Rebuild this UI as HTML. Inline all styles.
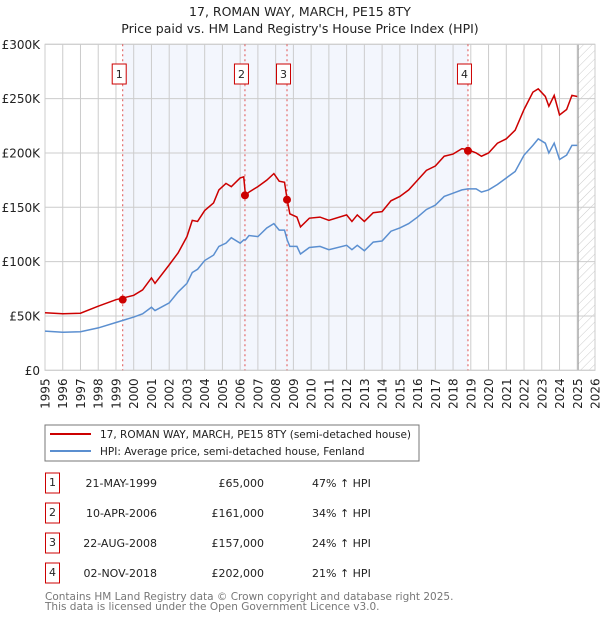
<!DOCTYPE html>
<html><head><meta charset="utf-8"><style>
body{margin:0;background:#fff;font-family:"DejaVu Sans","Liberation Sans",sans-serif;}
svg text{font-family:"DejaVu Sans","Liberation Sans",sans-serif;}
</style></head><body>
<svg id="c" width="600" height="620" xmlns="http://www.w3.org/2000/svg">
<defs><pattern id="hatch" width="6" height="6" patternUnits="userSpaceOnUse" patternTransform="rotate(45)"><line x1="0" y1="0" x2="0" y2="6" stroke="#ccc" stroke-width="1"/></pattern></defs>
<text x="300" y="16" text-anchor="middle" font-size="12.5" fill="#222">17, ROMAN WAY, MARCH, PE15 8TY</text>
<text x="300" y="33" text-anchor="middle" font-size="12.5" fill="#222">Price paid vs. HM Land Registry's House Price Index (HPI)</text>
<g id="plot"></g>
<rect x="45" y="425" width="374" height="36" fill="#fff" stroke="#777"/>
<line x1="50" y1="434" x2="91" y2="434" stroke="#cc0000" stroke-width="2"/>
<text x="100" y="438" font-size="10.5" fill="#222">17, ROMAN WAY, MARCH, PE15 8TY (semi-detached house)</text>
<line x1="50" y1="451" x2="91" y2="451" stroke="#5b8fd0" stroke-width="2"/>
<text x="100" y="455" font-size="10.5" fill="#222">HPI: Average price, semi-detached house, Fenland</text>
<g id="tbl" font-size="11" fill="#222"></g>
<text x="45" y="600" font-size="10.5" fill="#777">Contains HM Land Registry data © Crown copyright and database right 2025.</text>
<text x="45" y="610" font-size="10.5" fill="#777">This data is licensed under the Open Government Licence v3.0.</text>
</svg>
<script>
const years=[1995,1996,1997,1998,1999,2000,2000.5,2001,2001.2,2002,2002.5,2003,2003.3,2003.6,2004,2004.5,2004.8,2005.2,2005.5,2006,2006.2,2006.3,2006.5,2007,2007.5,2007.9,2008.2,2008.5,2008.65,2008.8,2009.2,2009.4,2009.9,2010.5,2011,2012,2012.3,2012.6,2013,2013.5,2014,2014.5,2015,2015.5,2016,2016.5,2017,2017.5,2018,2018.5,2018.84,2019.3,2019.6,2020,2020.5,2021,2021.5,2022,2022.5,2022.8,2023.2,2023.4,2023.7,2024,2024.4,2024.7,2025];
const priceK=[53,52,52.5,59,65,69,74,85,80,97,108,123,138,137,147,154,166,172,169,177,178,161,164,169,175,181,174,173,157,144,141,132,140,141,138,143,137,143,137,145,146,156,160,166,175,184,188,197,199,204,203,200,197,200,209,213,221,240,256,259,252,243,253,235,240,253,252];
const hpiK=[36,35,35.5,39,44,49,52,58,55,62,72,80,90,93,101,106,114,117,122,117,120,120,124,123,131,135,129,129,120,114,114,107,113,114,111,115,111,115,110,118,119,128,131,135,141,148,152,160,163,166,167,167,164,166,171,177,183,198,207,213,209,200,209,194,198,207,207];
const saleYears=[1999.38,2006.27,2008.64,2018.84];
const saleK=[65,161,157,202];
const saleDates=["21-MAY-1999","10-APR-2006","22-AUG-2008","02-NOV-2018"];
const salePrices=["£65,000","£161,000","£157,000","£202,000"];
const salePct=["47% ↑ HPI","34% ↑ HPI","24% ↑ HPI","21% ↑ HPI"];
const yTicks=[0,50,100,150,200,250,300];
const yLabels=["£0","£50K","£100K","£150K","£200K","£250K","£300K"];
const xTicks=[1995,1996,1997,1998,1999,2000,2001,2002,2003,2004,2005,2006,2007,2008,2009,2010,2011,2012,2013,2014,2015,2016,2017,2018,2019,2020,2021,2022,2023,2024,2025,2026];
const X0=45,X1=595,Y0=370.3,Y1=44.3;
const xs=y=>X0+(y-1995)*(X1-X0)/31;
const ys=v=>Y0-v*(Y0-Y1)/300;
const NS="http://www.w3.org/2000/svg";
const g=document.getElementById('plot');
function mk(t,a,p){const e=document.createElementNS(NS,t);for(const k in a)e.setAttribute(k,a[k]);(p||g).appendChild(e);return e;}
let e=mk('rect',{x:xs(saleYears[0]),y:Y1,width:xs(saleYears[3])-xs(saleYears[0]),height:Y0-Y1,fill:'#f3f6fd'});


e=mk('rect',{x:xs(2025.05),y:Y1,width:X1-xs(2025.05),height:Y0-Y1,fill:'url(#hatch)'});


xTicks.forEach((t,i)=>{
 e=mk('line',{x1:xs(t),x2:xs(t),y1:Y1,y2:Y0,stroke:'#ccc','stroke-width':1});
 
 
 const tx=xs(t)+4.5;
 e=mk('text',{x:tx,y:Y0+8,'font-size':12,fill:'#222','text-anchor':'end',transform:`rotate(-90 ${tx} ${Y0+8})`});
 e.textContent=t;
 
 
});
yTicks.forEach((t,i)=>{
 e=mk('line',{x1:X0,x2:X1,y1:ys(t),y2:ys(t),stroke:'#ccc','stroke-width':1});
 
 
 e=mk('text',{x:40,y:ys(t)+4.5,'font-size':12,fill:'#222','text-anchor':'end'});
 e.textContent=yLabels[i];
 
 
});
e=mk('line',{x1:xs(2025.05),x2:xs(2025.05),y1:Y1,y2:Y0,stroke:'#999','stroke-width':1});


e=mk('rect',{x:X0,y:Y1,width:X1-X0,height:Y0-Y1,fill:'none',stroke:'#ccc'});


saleYears.forEach((s,i)=>{
 e=mk('line',{x1:xs(s),x2:xs(s),y1:Y1,y2:Y0,stroke:'#e05050','stroke-width':1,'stroke-dasharray':'2,3'});
 
 
});
e=mk('polyline',{points:years.map((y,i)=>xs(y)+','+ys(hpiK[i])).join(' '),fill:'none',stroke:'#5b8fd0','stroke-width':1.5});


e=mk('polyline',{points:years.map((y,i)=>xs(y)+','+ys(priceK[i])).join(' '),fill:'none',stroke:'#cc0000','stroke-width':1.5});


saleYears.forEach((s,i)=>{
 e=mk('circle',{cx:xs(s),cy:ys(saleK[i]),r:4,fill:'#cc0000'});
 
 
 e=mk('rect',{x:xs(s)-10.5,y:64,width:14,height:20,fill:'#fff',stroke:'#cc0000'});
 
 
 e=mk('text',{x:xs(s)-3.5,y:78,'font-size':11,fill:'#222','text-anchor':'middle'});
 e.textContent=i+1;
 
 
});
const tb=document.getElementById('tbl');
saleDates.forEach((d,i)=>{
 const cy=483+i*30;
 e=mk('rect',{x:45.5,y:cy-10,width:14,height:20,fill:'#fff',stroke:'#cc0000'},tb);
 
 
 e=mk('text',{x:52.5,y:cy+3,'text-anchor':'middle'},tb);e.textContent=i+1;
 
 
 e=mk('text',{x:157,y:cy+4,'text-anchor':'end'},tb);e.textContent=d;
 
 
 e=mk('text',{x:264,y:cy+4,'text-anchor':'end'},tb);e.textContent=salePrices[i];
 
 
 e=mk('text',{x:312,y:cy+4},tb);e.textContent=salePct[i];
 
 
});
</script>
</body></html>
